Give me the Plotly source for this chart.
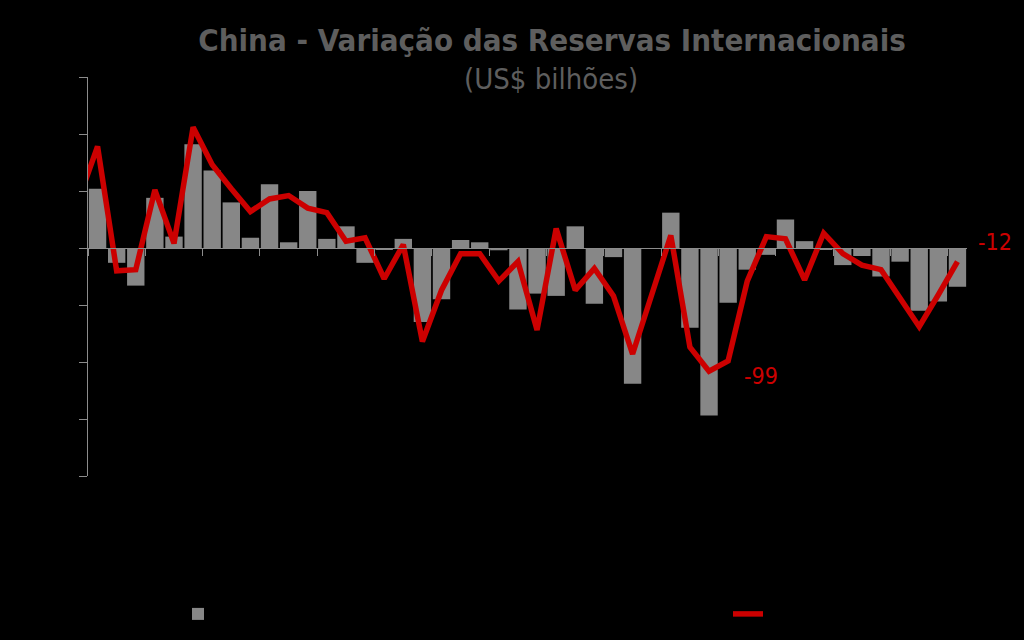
import plotly.graph_objects as go

# month index (0..45); the line also has one earlier month (-1) that is clipped by the axis range
months = list(range(46))
line_months = list(range(-1, 46))

bars = [52, -13, -33, 44, 10, 91, 68, 40, 9, 56,
        5, 50, 8, 19, -13, -1, 8, -65, -45, 7,
        5, -2, -54, -40, -42, 19, -49, -8, -119, 0,
        31, -70, -147, -48, -19, -6, 25, 6, -1, -15,
        -7, -25, -12, -55, -47, -34]

line = [42, 89, -20, -19, 51, 4, 106, 73, 52, 32, 43,
        46, 35, 31, 6, 9, -27, 3, -82, -37, -5,
        -5, -29, -12, -72, 17, -37, -18, -42, -93, -41,
        11, -87, -108, -99, -29, 10, 8, -28, 13, -5,
        -15, -19, -44, -69, -41, -12]

y_ticks = [-200, -150, -100, -50, 0, 50, 100, 150]
x_ticks = [k - 0.5 for k in range(0, 46, 3)]

names = ["Variação mensal", "Variação ajustada"]

GRAY_BAR = "#878787"
RED = "#cc0000"
AXIS = "#8c8c8c"
TITLE = "#5e5e5e"
FONT = "DejaVu Sans Condensed, DejaVu Sans, Verdana, sans-serif"

fig = go.Figure()
fig.add_trace(go.Bar(x=months, y=bars, name=names[0], legend="legend",
                     marker=dict(color=GRAY_BAR, line=dict(width=0))))
fig.add_trace(go.Scatter(x=line_months, y=line, name=names[1], mode="lines", legend="legend2",
                         line=dict(color=RED, width=5.5)))

# value labels on the line
for k, dx, dy in [(33, 33, -15), (45, 38, 20)]:
    fig.add_annotation(x=k, y=line[k + 1], xref="x", yref="y", text=f"{line[k + 1]}",
                       showarrow=False, xshift=dx, yshift=dy,
                       font=dict(family=FONT, size=23, color=RED))

fig.add_annotation(text="(US$ bilhões)", x=(551 - 88) / 879, y=(476 - 79) / 399,
                   xref="paper", yref="paper", xanchor="center", yanchor="middle",
                   showarrow=False, font=dict(family=FONT, size=29, color=TITLE))

leg_common = dict(orientation="h", xanchor="left", yanchor="middle",
                  font=dict(family=FONT, size=16, color="black"),
                  bgcolor="rgba(0,0,0,0)")

fig.update_layout(
    width=1024, height=640,
    paper_bgcolor="black", plot_bgcolor="black",
    margin=dict(l=88, r=57, t=77, b=164, autoexpand=False),
    title=dict(text="<b>China - Variação das Reservas Internacionais</b>",
               x=552 / 1024, xanchor="center", y=1 - 40 / 640, yanchor="middle",
               font=dict(family=FONT, size=31, color=TITLE)),
    bargap=0.09,
    showlegend=True,
    legend=dict(x=(178 - 88) / 879, y=(476 - 614) / 399, **leg_common),
    legend2=dict(x=(728 - 88) / 879, y=(476 - 614) / 399, **leg_common),
    xaxis=dict(range=[-0.5, 45.5], anchor="free", position=200 / 350,
               showline=True, linecolor=AXIS, linewidth=1,
               tickmode="array", tickvals=x_ticks, ticks="outside", ticklen=7,
               tickcolor=AXIS, showticklabels=False, showgrid=False, zeroline=False),
    yaxis=dict(range=[-200, 150], tickmode="array", tickvals=y_ticks,
               showline=True, linecolor=AXIS, linewidth=1,
               ticks="outside", ticklen=8, tickcolor=AXIS,
               showticklabels=False, showgrid=False, zeroline=False),
)

fig.write_html("out.html")
